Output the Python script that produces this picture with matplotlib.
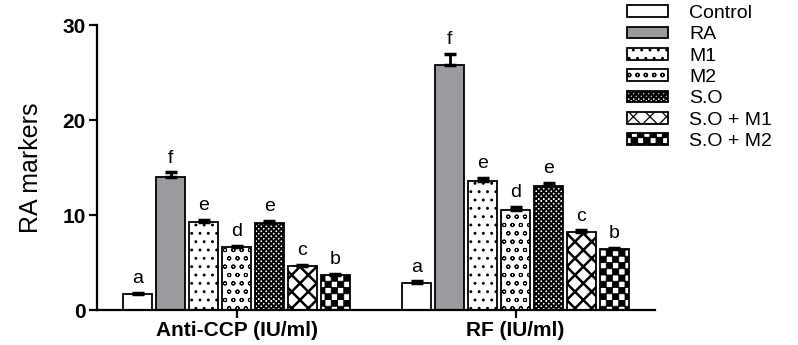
import warnings

import matplotlib
matplotlib.use("Agg")
import matplotlib.pyplot as plt
import numpy as np
from matplotlib import hatch as mhatch
from matplotlib.path import Path

warnings.filterwarnings("ignore")

groups = ["Anti-CCP (IU/ml)", "RF (IU/ml)"]
treatments = ["Control", "RA", "M1", "M2", "S.O", "S.O + M1", "S.O + M2"]
anti_ccp = [1.7, 14.0, 9.3, 6.6, 9.2, 4.6, 3.7]
anti_ccp_err = [0.1, 0.5, 0.2, 0.15, 0.2, 0.15, 0.1]
rf = [2.9, 25.8, 13.6, 10.5, 13.1, 8.2, 6.4]
rf_err = [0.15, 1.2, 0.3, 0.4, 0.3, 0.2, 0.15]
letters = ["a", "f", "e", "d", "e", "c", "b"]

colors = ["white", "#9b9b9f", "white", "white", "white", "white", "white"]
hatches = [None, None, "..", "oo", "ccccc", "xx", "cc"]
hatch_lw = [0.9, 0.9, 0.9, 0.7, 0.6, 1.8, 0.6]


class CheckerHatch(mhatch.HatchPatternBase):
    # checkerboard hatch, 'c' repeated sets the cell count
    def __init__(self, hatch, density):
        self.n = hatch.count("c") * 8
        self.num_vertices = (self.n * self.n // 2) * 5

    def set_vertices_and_codes(self, vertices, codes):
        s = 1.0 / self.n
        k = 0
        for i in range(self.n):
            for j in range(self.n):
                if (i + j) % 2:
                    continue
                x0, y0 = i * s, j * s
                vertices[k:k + 5] = [(x0, y0), (x0 + s, y0), (x0 + s, y0 + s),
                                     (x0, y0 + s), (x0, y0)]
                codes[k:k + 5] = [Path.MOVETO, Path.LINETO, Path.LINETO,
                                  Path.LINETO, Path.CLOSEPOLY]
                k += 5


mhatch._hatch_types.append(CheckerHatch)

plt.rcParams["font.family"] = ["Liberation Sans", "DejaVu Sans"]
plt.rcParams["hatch.linewidth"] = 0.9

fig = plt.figure(figsize=(7.98, 3.45), dpi=100)
ax = fig.add_axes([0.1216, 0.101, 0.821 - 0.1216, 0.8265])

x = np.arange(len(groups))
pitch = 0.118
width = 0.105
values = np.array([anti_ccp, rf])
errs = np.array([anti_ccp_err, rf_err])

handles = []
for i, name in enumerate(treatments):
    pos = x + (i - 3) * pitch
    b = ax.bar(pos, values[:, i], width, color=colors[i], edgecolor="black",
               linewidth=1.3, hatch=hatches[i], label=name, zorder=2)
    for p in b.patches:
        if hasattr(p, "set_hatch_linewidth"):
            p.set_hatch_linewidth(hatch_lw[i])
    handles.append(b)
    ax.errorbar(pos, values[:, i], yerr=[np.zeros(2), errs[:, i]], fmt="none",
                ecolor="black", elinewidth=2, capsize=4.5, capthick=2.5, zorder=3)
    for p, v, e in zip(pos, values[:, i], errs[:, i]):
        ax.annotate(letters[i], (p, v + e), xytext=(0, 4),
                    textcoords="offset points", ha="center", va="bottom",
                    fontsize=14)

ax.set_xlim(-0.5, 1.5)
ax.set_ylim(0, 30)
ax.set_yticks([0, 10, 20, 30])
ax.set_xticks(x)
ax.set_xticklabels(groups, fontsize=15, fontweight="bold")
for lab in ax.get_yticklabels():
    lab.set_fontsize(15)
    lab.set_fontweight("bold")
ax.set_ylabel("RA markers", fontsize=18, labelpad=14)

for side in ["top", "right"]:
    ax.spines[side].set_visible(False)
for side in ["left", "bottom"]:
    ax.spines[side].set_linewidth(1.6)
ax.tick_params(axis="both", direction="out", length=6, width=1.6, pad=2)

leg = fig.legend(handles=handles, loc="upper left", bbox_to_anchor=(0.786, 0.985),
                 frameon=False, borderaxespad=0, borderpad=0, fontsize=14,
                 handlelength=2.1, handleheight=0.55, handletextpad=1.1,
                 labelspacing=0.22)

fig.savefig("out.png", dpi=100)
